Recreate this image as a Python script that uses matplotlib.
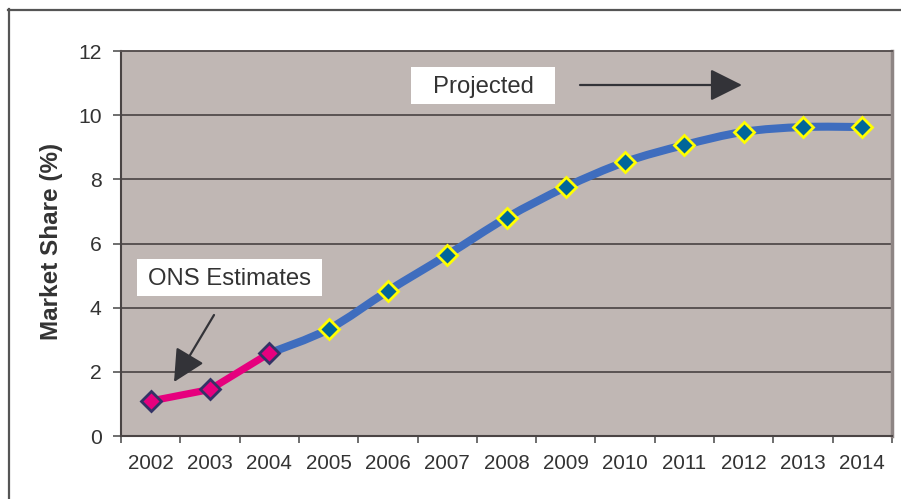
import matplotlib
matplotlib.use("Agg")
import matplotlib.pyplot as plt
from matplotlib.path import Path
from matplotlib.patches import PathPatch, Rectangle
from matplotlib.lines import Line2D
import numpy as np

plt.rcParams['font.family'] = ['Liberation Sans', 'DejaVu Sans']

years = ['2002', '2003', '2004', '2005', '2006', '2007', '2008',
         '2009', '2010', '2011', '2012', '2013', '2014']
ons_estimates = [1.09, 1.45, 2.58]              # 2002-2004
projected = [2.58, 3.33, 4.52, 5.64, 6.80, 7.76, 8.54, 9.07, 9.48, 9.63, 9.63]  # 2004-2014
y_ticks = [0, 2, 4, 6, 8, 10, 12]
y_label = 'Market Share (%)'
note_projected = 'Projected'
note_ons = 'ONS Estimates'

W, H = 901, 499
fig = plt.figure(figsize=(W / 100, H / 100), dpi=100)
fig.patch.set_facecolor('white')

L, R, T, B = 121, 892, 51, 436
ax = fig.add_axes([L / W, 1 - B / H, (R - L) / W, (B - T) / H])
ax.set_facecolor('#C0B7B4')

text_col = '#333333'

x_ons = np.arange(0, 3)
x_proj = np.arange(2, 13)

# smooth (Catmull-Rom) blue line through projected points
def smooth_path(xs, ys):
    pts = np.column_stack([xs, ys]).astype(float)
    verts = [pts[0]]
    codes = [Path.MOVETO]
    n = len(pts)
    for i in range(n - 1):
        p0 = pts[i - 1] if i > 0 else pts[i]
        p1 = pts[i]
        p2 = pts[i + 1]
        p3 = pts[i + 2] if i + 2 < n else pts[i + 1]
        c1 = p1 + (p2 - p0) / 6.0
        c2 = p2 - (p3 - p1) / 6.0
        verts += [c1, c2, p2]
        codes += [Path.CURVE4] * 3
    return Path(verts, codes)

ax.add_patch(PathPatch(smooth_path(x_proj, projected), facecolor='none',
                       edgecolor='#3F6DBE', lw=5.8, capstyle='round',
                       joinstyle='round', zorder=3))
ax.plot(x_proj[1:], projected[1:], ls='none', marker='D', ms=9.8,
        mfc='#00669A', mec='#FFFF00', mew=2.0, zorder=5)

ax.plot(x_ons, ons_estimates, color='#E6007E', lw=5.2, solid_capstyle='round',
        marker='D', ms=10.5, mfc='#E6007E', mec='#333366', mew=2.0, zorder=6)

ax.set_xlim(-0.5, 12.5)
ax.set_ylim(0, 12)
ax.set_yticks(y_ticks)
ax.set_yticklabels([str(v) for v in y_ticks])
ax.set_xticks(np.arange(13))
ax.set_xticklabels(years)
ax.set_xticks(np.arange(-0.5, 13, 1), minor=True)
ax.tick_params(axis='x', which='major', length=0, pad=13, labelsize=14.8,
               labelcolor=text_col)
ax.tick_params(axis='x', which='minor', length=5, width=1.2, color='#555555')
ax.tick_params(axis='y', which='major', length=6, width=1.2, color='#555555',
               pad=8, labelsize=15.2, labelcolor=text_col)

ax.grid(axis='y', color='#5A5353', lw=1.4, zorder=1)
ax.set_axisbelow(True)
for s in ['left', 'bottom']:
    ax.spines[s].set_color('#4A4444')
    ax.spines[s].set_linewidth(1.5)
ax.spines['top'].set_color('#5A5353')
ax.spines['top'].set_linewidth(1.4)
ax.spines['right'].set_color('#8E8584')
ax.spines['right'].set_linewidth(2.5)

fig.text(52 / W, 1 - 241.5 / H, y_label, rotation=90, ha='center', va='center',
         fontsize=17.5, fontweight='bold', color=text_col)

def ax_frac(px, py):
    return ((px - L) / (R - L), (B - py) / (B - T))

# label boxes
for (x0, y0, x1, y1), txt in [((411, 67, 555, 104), note_projected),
                              ((137, 259, 322, 296), note_ons)]:
    fx0, fy1 = ax_frac(x0, y1)
    fx1, fy0 = ax_frac(x1, y0)
    ax.add_patch(Rectangle((fx0, fy1), fx1 - fx0, fy0 - fy1, transform=ax.transAxes,
                           facecolor='white', edgecolor='none', zorder=7))
    ax.text((fx0 + fx1) / 2, (fy0 + fy1) / 2 - 0.003, txt, transform=ax.transAxes,
            ha='center', va='center', fontsize=17.2, color=text_col, zorder=8)

# arrows
arrowprops = dict(arrowstyle='-|>,head_length=1.1,head_width=0.55',
                  color='#333338', lw=1.6, shrinkA=0, shrinkB=0, mutation_scale=18)
ax.annotate('', xy=ax_frac(742, 85), xytext=ax_frac(580, 85),
            xycoords='axes fraction', textcoords='axes fraction',
            arrowprops=arrowprops, zorder=8)
ax.annotate('', xy=ax_frac(174, 382), xytext=ax_frac(214, 315),
            xycoords='axes fraction', textcoords='axes fraction',
            arrowprops=arrowprops, zorder=8)

# outer frame
fig.add_artist(Line2D([8.5 / W, 8.5 / W], [0, 1 - 9 / H], transform=fig.transFigure,
                      color='#555555', lw=1.6))
fig.add_artist(Line2D([8 / W, 1], [1 - 9.5 / H, 1 - 9.5 / H], transform=fig.transFigure,
                      color='#555555', lw=1.6))

fig.savefig('out.png', dpi=100)
